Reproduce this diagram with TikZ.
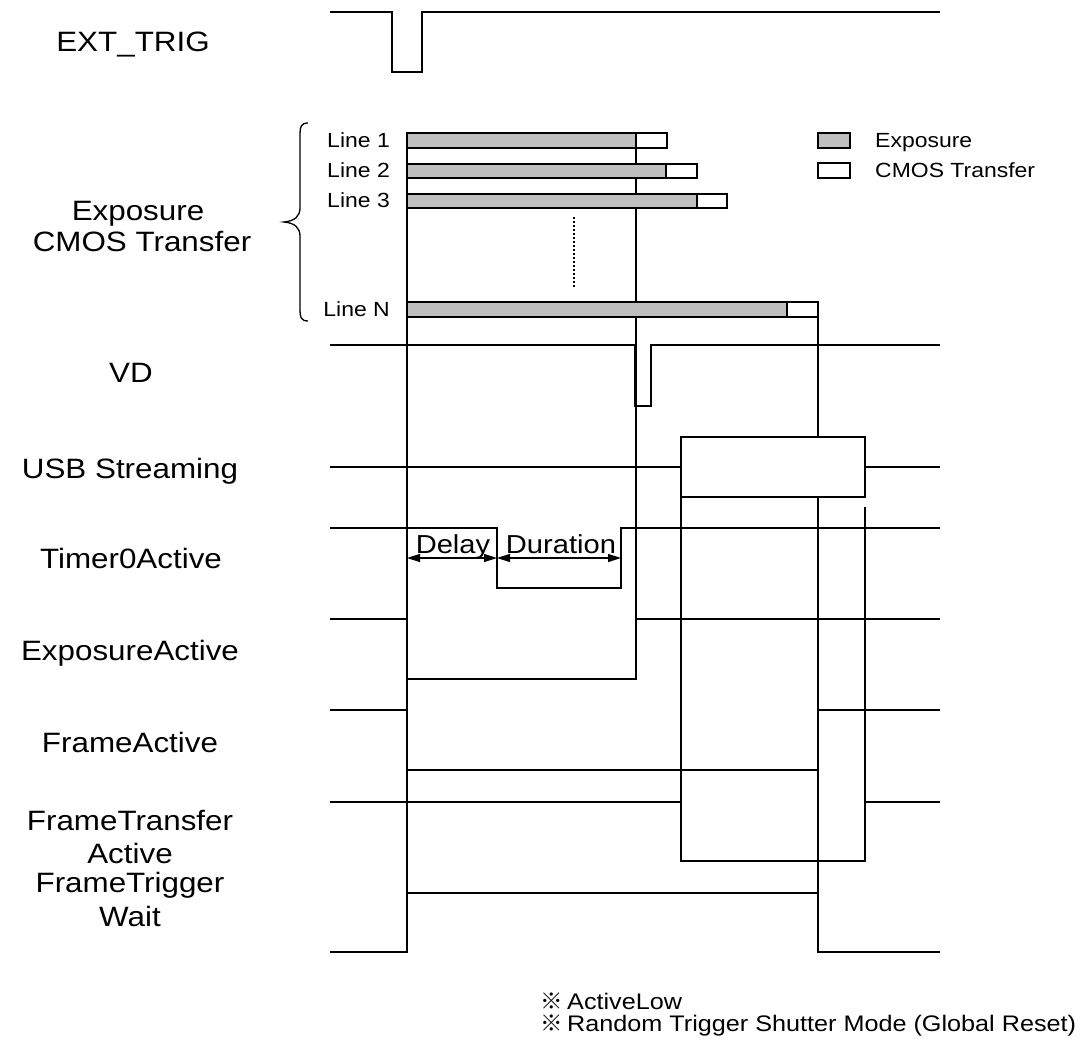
\documentclass[tikz,border=0pt]{standalone}
\usepackage{fontspec}
\setmainfont{Liberation Sans}[FakeStretch=1.12]
\newfontfamily\cjk{Noto Sans CJK JP}
\usetikzlibrary{arrows.meta}
\definecolor{expgray}{gray}{0.75}
\begin{document}
\begin{tikzpicture}[x=1pt,y=-1pt,
  sig/.style={line width=2.4pt, line join=miter},
  refline/.style={line width=1.4pt},
  bar/.style={draw, line width=1.5pt},
  lbl/.style={font=\fontsize{28}{32}\selectfont, anchor=base, inner sep=0pt},
  linelbl/.style={font=\fontsize{20.5}{24}\selectfont, anchor=base east, inner sep=0pt},
  leglbl/.style={font=\fontsize{20.5}{24}\selectfont, anchor=base west, inner sep=0pt},
  dimlbl/.style={font=\fontsize{26}{30}\selectfont, anchor=base, inner sep=0pt},
  note/.style={font=\fontsize{22.5}{27}\selectfont, anchor=base west, inner sep=0pt},
  dimarrow/.style={line width=1.4pt, {Triangle[length=13pt,width=8pt]}-{Triangle[length=13pt,width=8pt]}},
]
\useasboundingbox (0,0) rectangle (1084,1040);

% signal names
\node[lbl] (extlbl) at (133,52) {EXT\_TRIG};
\node[lbl] (explbl) at (138,221) {Exposure};
\node[lbl] (cmoslbl) at (142,252) {CMOS Transfer};
\node[lbl] (vdlbl) at (131,383) {VD};
\node[lbl] (usblbl) at (130,478) {USB Streaming};
\node[lbl] (timlbl) at (131,568) {Timer0Active};
\node[lbl] (ealbl) at (130,660) {ExposureActive};
\node[lbl] (falbl) at (130,752) {FrameActive};
\node[lbl] (ftalbl) at (130,830) {FrameTransfer};
\node[lbl] (ftalbl2) at (130,863) {Active};
\node[lbl] (ftwlbl) at (130,892) {FrameTrigger};
\node[lbl] (ftwlbl2) at (130,926) {Wait};

% brace
\draw[line width=1.3pt] (308,123) .. controls (301,123) and (300,127) .. (300,134) -- (300,208)
  .. controls (300,216) and (295,221) .. (284,222)
  .. controls (295,223) and (300,228) .. (300,236) -- (300,310)
  .. controls (300,317) and (301,321) .. (308,321);

% reference lines
\draw[refline] (407,133) -- (407,893);
\draw[refline] (636,133) -- (636,619);
\draw[refline] (818,302) -- (818,893);
\draw[refline] (681,497) -- (681,802);
\draw[refline] (865,507) -- (865,802);

% exposure / transfer bars
\draw[bar, fill=expgray] (407,133) rectangle (636,148);
\draw[bar, fill=white] (636,133) rectangle (667,148);
\draw[bar, fill=expgray] (407,164) rectangle (666,178);
\draw[bar, fill=white] (666,164) rectangle (697,178);
\draw[bar, fill=expgray] (407,194) rectangle (697,208);
\draw[bar, fill=white] (697,194) rectangle (727,208);
\draw[bar, fill=expgray] (407,302) rectangle (787,317);
\draw[bar, fill=white] (787,302) rectangle (818,317);
\draw[line width=1.2pt, dash pattern=on 2pt off 2pt] (574,217) -- (574,287);

\node[linelbl] (l1) at (390,148) {Line 1};
\node[linelbl] (l2) at (390,178) {Line 2};
\node[linelbl] (l3) at (390,208) {Line 3};
\node[linelbl] (ln) at (390,317) {Line N};

% legend
\draw[bar, fill=expgray] (818,133) rectangle (850,148);
\draw[bar, fill=white] (818,163) rectangle (850,178);
\node[leglbl] (legexp) at (875,148) {Exposure};
\node[leglbl] (legcmos) at (875,178) {CMOS Transfer};

% EXT_TRIG
\draw[sig] (330,12) -- (392,12) -- (392,72) -- (422,72) -- (422,12) -- (940,12);
% VD
\draw[sig] (330,345) -- (635,345) -- (635,406) -- (651,406) -- (651,345) -- (940,345);
% USB Streaming
\draw[sig] (330,467) -- (681,467);
\draw[sig, fill=white] (681,437) rectangle (865,497);
\draw[sig] (865,467) -- (940,467);
% Timer0Active
\draw[sig] (330,528) -- (497,528) -- (497,588) -- (621,588) -- (621,528) -- (940,528);
\coordinate (d0) at (407,558);
\coordinate (d1) at (497,558);
\coordinate (d2) at (621,558);
\draw[dimarrow] (d0) -- (d1);
\draw[dimarrow] (d1) -- (d2);
\node[dimlbl] (delay) at (453,553) {Delay};
\node[dimlbl] (duration) at (561,553) {Duration};
% ExposureActive
\draw[sig] (330,619) -- (407,619) -- (407,679) -- (636,679) -- (636,619) -- (940,619);
% FrameActive
\draw[sig] (330,710) -- (407,710) -- (407,770) -- (818,770) -- (818,710) -- (940,710);
% FrameTransferActive
\draw[sig] (330,802) -- (681,802) -- (681,861) -- (865,861) -- (865,802) -- (940,802);
% FrameTriggerWait
\draw[sig] (330,952) -- (407,952) -- (407,893) -- (818,893) -- (818,952) -- (940,952);

% notes
\node[note, anchor=base east] (m1) at (563,1009) {\cjk ※};
\node[note] (n1) at (567,1009) {ActiveLow};
\node[note, anchor=base east] (m2) at (563,1031) {\cjk ※};
\node[note] (n2) at (567,1031) {Random Trigger Shutter Mode (Global Reset)};
\end{tikzpicture}
\end{document}
